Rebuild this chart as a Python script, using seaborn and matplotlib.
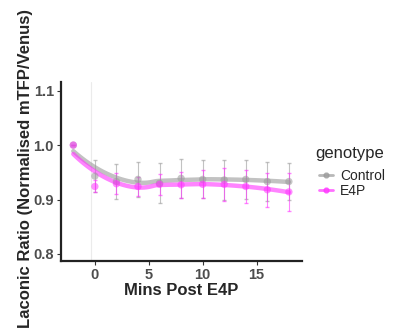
import numpy as np
import pandas as pd
import matplotlib
matplotlib.use("Agg")
import matplotlib.pyplot as plt
from matplotlib.lines import Line2D
import seaborn as sns

# data
mins = [-2, 0, 2, 4, 6, 8, 10, 12, 14, 16, 18]
control_mean = [1.0, 0.943, 0.933, 0.937, 0.930, 0.939, 0.937, 0.936, 0.937, 0.933, 0.933]
control_err = [0.0, 0.030, 0.032, 0.032, 0.037, 0.036, 0.035, 0.036, 0.036, 0.036, 0.034]
e4p_mean = [1.0, 0.924, 0.929, 0.924, 0.928, 0.927, 0.928, 0.928, 0.924, 0.918, 0.914]
e4p_err = [0.0, 0.011, 0.019, 0.018, 0.019, 0.024, 0.026, 0.030, 0.031, 0.031, 0.035]
genotypes = ["Control", "E4P"]
colors = {"Control": "#9a9a9a", "E4P": "#ff33ff"}
vline_x = -0.4


def loess(x, y, grid, span=0.75):
    """ggplot-style loess (degree 2, tricube weights)."""
    x = np.asarray(x, float)
    y = np.asarray(y, float)
    q = int(np.ceil(span * len(x)))
    out = []
    for x0 in grid:
        d = np.abs(x - x0)
        h = np.sort(d)[q - 1]
        w = np.clip(1 - (d / h) ** 3, 0, None) ** 3
        X = np.vstack([np.ones_like(x), x - x0, (x - x0) ** 2]).T
        W = np.diag(w)
        beta = np.linalg.lstsq(X.T @ W @ X, X.T @ W @ y, rcond=None)[0]
        out.append(beta[0])
    return np.array(out)


df = pd.DataFrame({
    "mins": mins * 2,
    "ratio": control_mean + e4p_mean,
    "err": control_err + e4p_err,
    "genotype": ["Control"] * len(mins) + ["E4P"] * len(mins),
})

grid = np.linspace(min(mins), max(mins), 120)
smooth = pd.concat([
    pd.DataFrame({"mins": grid, "ratio": loess(mins, m, grid), "genotype": g})
    for g, m in zip(genotypes, [control_mean, e4p_mean])
])

sns.set_style("white")
plt.rcParams["font.family"] = ["Liberation Sans", "DejaVu Sans"]

fig = plt.figure(figsize=(3.93, 3.33), dpi=100)
ax = fig.add_axes([0.155, 0.216, 0.613, 0.538])

ax.axvline(vline_x, color="#ebebeb", lw=0.8, zorder=0)

for g in genotypes:
    sub = df[df.genotype == g]
    ax.errorbar(sub.mins, sub.ratio, yerr=sub.err, fmt="none",
                ecolor=colors[g], elinewidth=0.8, capsize=1.5, alpha=0.6, zorder=2)

sns.lineplot(data=smooth, x="mins", y="ratio", hue="genotype", palette=colors,
             lw=3.2, alpha=0.6, legend=False, ax=ax, zorder=3)
sns.scatterplot(data=df, x="mins", y="ratio", hue="genotype", palette=colors,
                s=28, alpha=0.55, edgecolor=None, linewidth=0, legend=False, ax=ax, zorder=4)

ax.set_xlim(-3.15, 19.2)
ax.set_ylim(0.787, 1.116)
ax.set_xticks([0, 5, 10, 15])
ax.set_yticks([0.8, 0.9, 1.0, 1.1])
ax.set_yticklabels(["0.8", "0.9", "1.0", "1.1"])
ax.tick_params(labelsize=10.5, colors="#4d4d4d", length=3, width=0.8, pad=2,
               left=True, bottom=True)
for lab in ax.get_xticklabels() + ax.get_yticklabels():
    lab.set_fontweight("bold")
ax.tick_params(axis="both", color="#333333")

for side in ["top", "right"]:
    ax.spines[side].set_visible(False)
for side in ["left", "bottom"]:
    ax.spines[side].set_color("#222222")
    ax.spines[side].set_linewidth(1.6)

ax.set_xlabel("Mins Post E4P", fontsize=12, fontweight="bold", labelpad=1)
ax.set_ylabel("Laconic Ratio (Normalised mTFP/Venus)", fontsize=12,
              fontweight="bold")
ax.yaxis.set_label_coords(-0.115, 0.514)

# legend: title placed on its own for ggplot-like spacing
fig.text(0.8015, 0.5405, "genotype", fontsize=12, va="center", ha="left")
handles = [Line2D([0], [0], color=colors[g], lw=2, alpha=0.7, marker="o",
                  markersize=3.5) for g in genotypes]
fig.legend(handles, genotypes, loc="upper left", bbox_to_anchor=(0.78, 0.530),
           frameon=False, fontsize=10, handlelength=1.0, handletextpad=0.5,
           labelspacing=0.05)

fig.savefig("out.png", dpi=100)
